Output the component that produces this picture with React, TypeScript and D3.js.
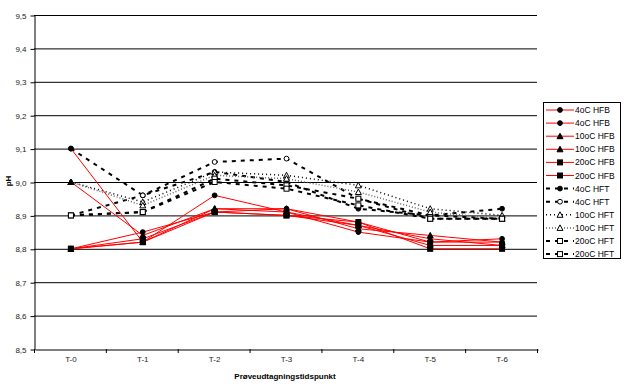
import React, { useEffect, useRef } from 'react';
import * as d3 from 'd3';

const categories = ['T-0', 'T-1', 'T-2', 'T-3', 'T-4', 'T-5', 'T-6'];
const yTicks = [8.5, 8.6, 8.7, 8.8, 8.9, 9.0, 9.1, 9.2, 9.3, 9.4, 9.5];

const seriesNames = [
  '4oC HFB', '4oC HFB', '10oC HFB', '10oC HFB', '20oC HFB', '20oC HFB',
  '4oC HFT', '4oC HFT', '10oC HFT', '10oC HFT', '20oC HFT', '20oC HFT',
];

const hfb4a = [9.10, 8.82, 8.96, 8.91, 8.85, 8.82, 8.83];
const hfb4b = [8.80, 8.85, 8.91, 8.92, 8.88, 8.82, 8.82];
const hfb10a = [9.00, 8.84, 8.92, 8.92, 8.86, 8.84, 8.82];
const hfb10b = [8.80, 8.82, 8.92, 8.91, 8.87, 8.83, 8.81];
const hfb20a = [8.80, 8.83, 8.91, 8.90, 8.88, 8.80, 8.80];
const hfb20b = [8.80, 8.82, 8.91, 8.90, 8.87, 8.81, 8.81];
const hft4a = [9.10, 8.96, 9.03, 9.00, 8.92, 8.90, 8.92];
const hft4b = [8.90, 8.96, 9.06, 9.07, 8.95, 8.90, 8.89];
const hft10a = [9.00, 8.94, 9.03, 9.02, 8.99, 8.92, 8.90];
const hft10b = [9.00, 8.93, 9.02, 9.01, 8.97, 8.91, 8.89];
const hft20a = [8.90, 8.91, 9.01, 8.99, 8.95, 8.89, 8.89];
const hft20b = [8.90, 8.91, 9.00, 8.98, 8.93, 8.89, 8.89];

const seriesValues = [
  hfb4a, hfb4b, hfb10a, hfb10b, hfb20a, hfb20b,
  hft4a, hft4b, hft10a, hft10b, hft20a, hft20b,
];

// visual style per series
const styles = [
  { stroke: '#ff0000', dash: null, width: 1, marker: 'circle', fill: '#000' },
  { stroke: '#ff0000', dash: null, width: 1, marker: 'circle', fill: '#000' },
  { stroke: '#ff0000', dash: null, width: 1, marker: 'triangle', fill: '#000' },
  { stroke: '#ff0000', dash: null, width: 1, marker: 'triangle', fill: '#000' },
  { stroke: '#ff0000', dash: null, width: 1, marker: 'square', fill: '#000' },
  { stroke: '#ff0000', dash: null, width: 1, marker: 'square', fill: '#000' },
  { stroke: '#000', dash: '4,5', width: 2, marker: 'circle', fill: '#000' },
  { stroke: '#000', dash: '4,5', width: 2, marker: 'circle', fill: '#fff' },
  { stroke: '#000', dash: '1,3', width: 1.5, marker: 'triangle', fill: '#fff' },
  { stroke: '#666', dash: '1,2', width: 1.5, marker: 'triangle', fill: '#fff' },
  { stroke: '#000', dash: '4,5', width: 2, marker: 'square', fill: '#fff' },
  { stroke: '#000', dash: '4,5', width: 2, marker: 'square', fill: '#fff' },
];

const drawMarker = (g, type, cx, cy, fill) => {
  if (type === 'circle') {
    g.append('circle').attr('cx', cx).attr('cy', cy).attr('r', 2.4)
      .attr('fill', fill).attr('stroke', '#000').attr('stroke-width', 1);
  } else if (type === 'triangle') {
    g.append('path')
      .attr('d', `M${cx},${cy - 3}L${cx + 3},${cy + 2.5}L${cx - 3},${cy + 2.5}Z`)
      .attr('fill', fill).attr('stroke', '#000').attr('stroke-width', 1);
  } else {
    g.append('rect').attr('x', cx - 2.5).attr('y', cy - 2.5).attr('width', 5).attr('height', 5)
      .attr('fill', fill).attr('stroke', '#000').attr('stroke-width', 1);
  }
};

const App = () => {
  const svgRef = useRef(null);

  useEffect(() => {
    const svg = d3.select(svgRef.current);
    svg.selectAll('*').remove();

    const left = 34, right = 537, top = 15, bottom = 349;
    const x = d3.scaleBand().domain(categories).range([left, right]);
    const y = d3.scaleLinear().domain([8.5, 9.5]).range([bottom, top]);
    const font = 'Liberation Sans, Arial, sans-serif';

    // grid lines
    svg.append('g').selectAll('line').data(yTicks.slice(1)).join('line')
      .attr('x1', left).attr('x2', right)
      .attr('y1', d => y(d) + 0.5).attr('y2', d => y(d) + 0.5)
      .attr('stroke', '#000').attr('stroke-width', 1);

    // axes
    const yAxis = svg.append('g').attr('transform', `translate(${left + 0.5},0.5)`)
      .call(d3.axisLeft(y).tickValues(yTicks).tickSize(4).tickSizeOuter(0)
        .tickFormat(d => d3.format('.1f')(d).replace('.', ',')));
    yAxis.select('.domain').attr('stroke', '#000');
    yAxis.selectAll('text').attr('font-family', font).attr('font-size', 8).attr('fill', '#222').attr('dx', -1);

    const xAxis = svg.append('g').attr('transform', `translate(1,${bottom + 0.5})`)
      .call(d3.axisBottom(x).tickSize(0).tickSizeOuter(0));
    xAxis.select('.domain').attr('stroke', '#000');
    xAxis.selectAll('text').attr('font-family', font).attr('font-size', 8).attr('fill', '#222').attr('dy', 9);
    // ticks between categories
    svg.append('g').selectAll('line').data(d3.range(categories.length + 1)).join('line')
      .attr('x1', i => left + i * x.step() + 0.5).attr('x2', i => left + i * x.step() + 0.5)
      .attr('y1', bottom).attr('y2', bottom + 4)
      .attr('stroke', '#000');

    // axis titles
    svg.append('text').attr('x', 285).attr('y', 379).attr('text-anchor', 'middle')
      .attr('font-family', font).attr('font-size', 8).attr('font-weight', 'bold')
      .text('Prøveudtagningstidspunkt');
    svg.append('text').attr('transform', 'translate(11,181) rotate(-90)').attr('text-anchor', 'middle')
      .attr('font-family', font).attr('font-size', 8).attr('font-weight', 'bold')
      .text('pH');

    const cx = c => x(c) + x.bandwidth() / 2 + 1;
    const line = d3.line().x(d => cx(d.c)).y(d => y(d.v));

    // black (HFT) first, red on top
    const order = [6, 7, 8, 9, 10, 11, 0, 1, 2, 3, 4, 5];
    order.forEach(i => {
      const st = styles[i];
      const pts = seriesValues[i].map((v, j) => ({ c: categories[j], v }));
      svg.append('path').datum(pts)
        .attr('fill', 'none').attr('stroke', st.stroke).attr('stroke-width', st.width)
        .attr('stroke-dasharray', st.dash).attr('d', line);
    });
    order.forEach(i => {
      const st = styles[i];
      const g = svg.append('g');
      seriesValues[i].forEach((v, j) => drawMarker(g, st.marker, cx(categories[j]), y(v), st.fill));
    });

    // legend
    const lg = svg.append('g');
    lg.append('rect').attr('x', 543.5).attr('y', 102.5).attr('width', 77).attr('height', 156)
      .attr('fill', '#fff').attr('stroke', '#000');
    seriesNames.forEach((name, i) => {
      const st = styles[i];
      const ly = 110 + i * 13.1;
      lg.append('line').attr('x1', 546).attr('x2', 574).attr('y1', ly).attr('y2', ly)
        .attr('stroke', st.stroke).attr('stroke-width', st.width).attr('stroke-dasharray', st.dash);
      drawMarker(lg, st.marker, 560, ly, st.fill);
      lg.append('text').attr('x', 575).attr('y', ly + 3).attr('font-family', font)
        .attr('font-size', 8.5).attr('fill', '#000').text(name);
    });
  }, []);

  return (
    <svg ref={svgRef} width={624} height={388}
      style={{ position: 'absolute', left: 0, top: 0, background: '#fff' }} />
  );
};

export default App;
